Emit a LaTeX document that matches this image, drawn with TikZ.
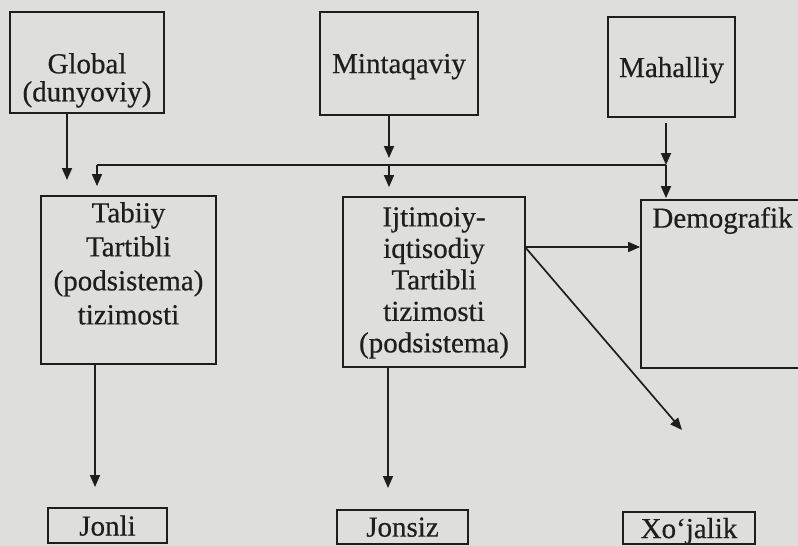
\documentclass[tikz,border=0pt]{standalone}
\usepackage{fontspec}
\setmainfont{Liberation Serif}
\newfontfamily\scanfont{Liberation Serif}[FakeBold=0.5]
\usetikzlibrary{arrows.meta, positioning}
\definecolor{paper}{RGB}{222,222,220}
\definecolor{ink}{RGB}{30,30,30}

\begin{document}
\begin{tikzpicture}[x=1pt, y=-1pt,
    box/.style={draw=ink, line width=1.8pt, inner sep=0pt},
    lbl/.style={text=ink, text depth=0pt, font=\scanfont\fontsize{29}{32.5}\selectfont},
    txt/.style={lbl, align=center, inner sep=0pt, anchor=north},
    arr/.style={draw=ink, line width=1.7pt, -{Triangle[length=12pt,width=10pt]}},
    lin/.style={draw=ink, line width=1.7pt}]
  % page
  \clip (0,0) rectangle (798,546);
  \fill[paper] (0,0) rectangle (798,546);

  % top row
  \node[box, minimum width=154pt, minimum height=101pt] (global) at (87,62.5) {};
  \node[txt, font=\scanfont\fontsize{29}{28}\selectfont] (globaltxt) at (87,53) {Global\\(dunyoviy)};
  \node[box, lbl, minimum width=158pt, minimum height=103pt] (mint) at (399,63.5) {Mintaqaviy};
  \node[box, lbl, minimum width=127pt, minimum height=100pt] (mahalliy) at (671.5,67) {Mahalliy};

  % middle row
  \node[box, minimum width=175pt, minimum height=168pt] (tabiiy) at (128.5,280) {};
  \node[txt, font=\scanfont\fontsize{29}{34}\selectfont] (tabiiytxt) at (128.5,202) {Tabiiy\\Tartibli\\(podsistema)\\tizimosti};
  \node[box, minimum width=182pt, minimum height=170pt] (ijtimoiy) at (434,282) {};
  \node[txt, font=\scanfont\fontsize{29}{31.5}\selectfont] (ijtimoiytxt) at (434,207) {Ijtimoiy-\\iqtisodiy\\Tartibli\\tizimosti\\(podsistema)};
  \node[box, minimum width=159pt, minimum height=168pt] (demografik) at (720.5,284) {};
  \node[txt] (demografiktxt) at (722.5,207) {Demografik};

  % bottom row
  \node[box, lbl, minimum width=119pt, minimum height=35pt] (jonli) at (107.5,525.5) {Jonli};
  \node[box, lbl, minimum width=131pt, minimum height=34pt] (jonsiz) at (402.5,527) {Jonsiz};
  \node[box, lbl, minimum width=132pt, minimum height=32pt] (xojalik) at (689,528) {Xo‘jalik};

  % bus and free ends
  \coordinate (bL) at (97,165);
  \coordinate (bM) at (389,165);
  \coordinate (bR) at (666,165);
  \coordinate (gtip) at (67,180);
  \coordinate (hz) at (525,247);
  \coordinate (dtip) at (682,430);
  \coordinate (t1) at (95,487);
  \coordinate (t2) at (388,488);

  \draw[lin] (bL) -- (bR);
  \draw[arr] (global.south -| gtip) -- (gtip);
  \draw[arr, shorten >=7pt] (mint.south -| bM) -- (bM);
  \draw[arr, shorten <=5pt] (mahalliy.south -| bR) -- (bR);
  \draw[arr, shorten >=9pt] (bL) -- (bL |- tabiiy.north);
  \draw[arr, shorten >=9pt] (bM) -- (bM |- ijtimoiy.north);
  \draw[arr, shorten >=1pt] (bR) -- (bR |- demografik.north);

  \draw[arr] (hz) -- (hz -| demografik.west);
  \draw[arr] (hz) -- (dtip);
  \draw[arr] (tabiiy.south -| t1) -- (t1);
  \draw[arr] (ijtimoiy.south -| t2) -- (t2);
\end{tikzpicture}
\end{document}
